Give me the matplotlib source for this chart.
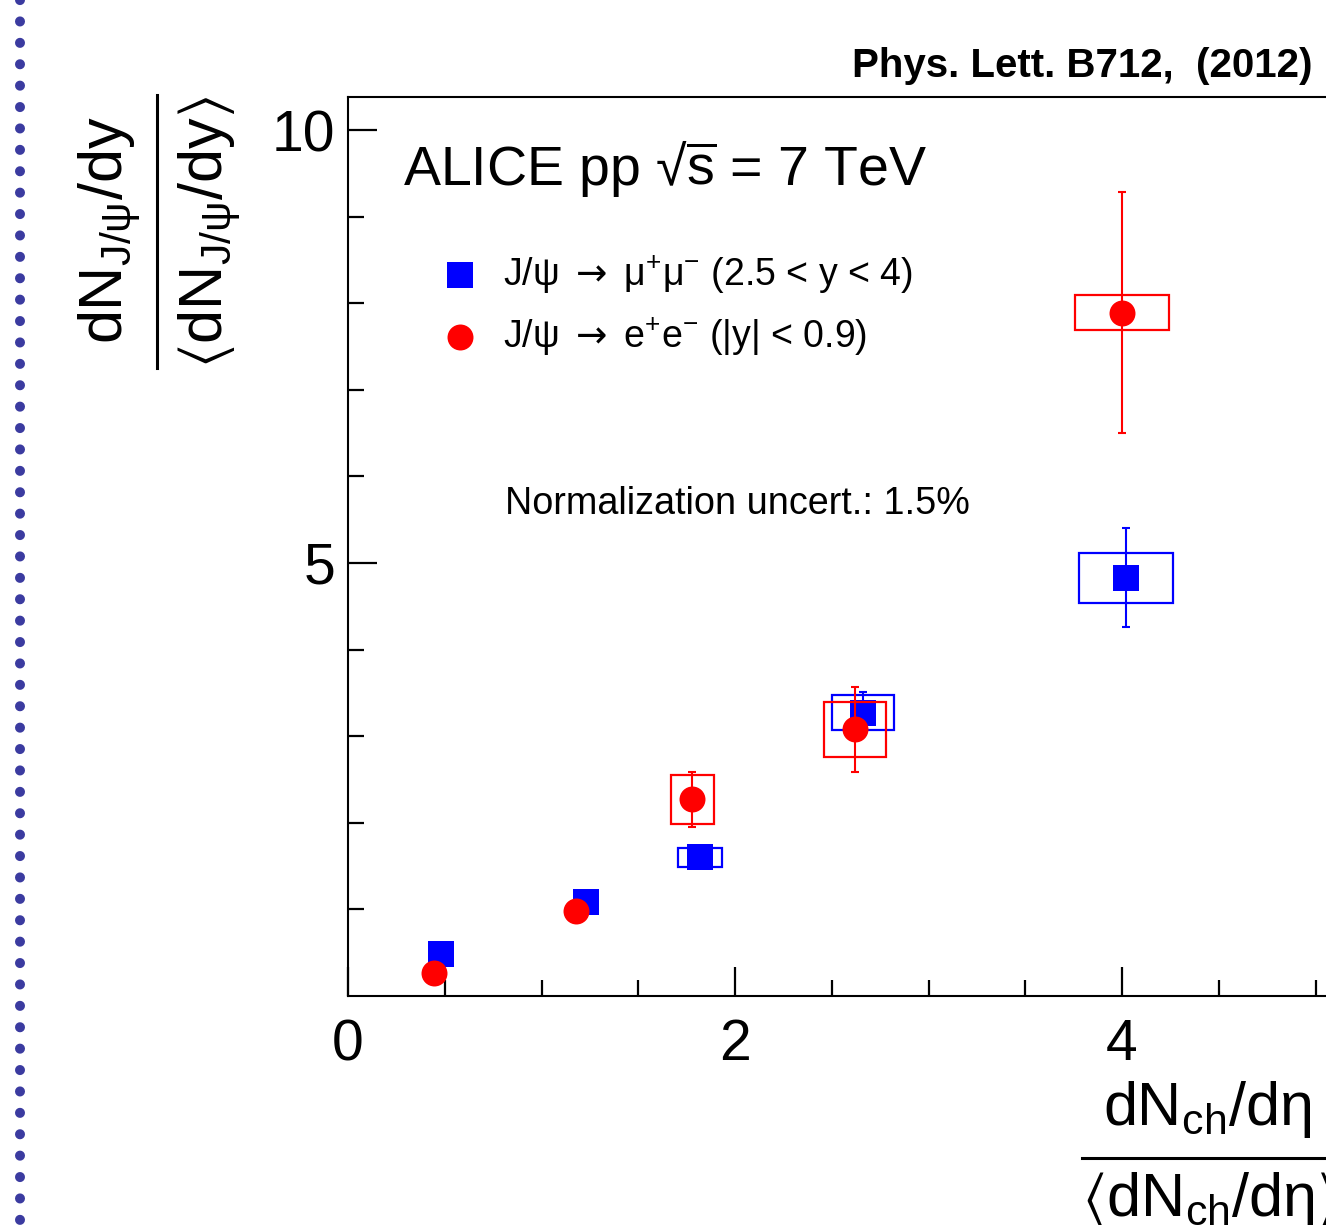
import matplotlib
matplotlib.use("Agg")
import matplotlib.pyplot as plt
from matplotlib.patches import Rectangle
from matplotlib.lines import Line2D

plt.rcParams['font.family'] = ['Liberation Sans', 'DejaVu Sans']
plt.rcParams['mathtext.fontset'] = 'custom'
plt.rcParams['mathtext.rm'] = 'Liberation Sans'
plt.rcParams['mathtext.it'] = 'Liberation Sans:italic'
plt.rcParams['mathtext.bf'] = 'Liberation Sans:bold'
plt.rcParams['mathtext.sf'] = 'DejaVu Sans'
plt.rcParams['mathtext.fallback'] = 'stixsans'

W, H = 1326, 1225

# J/psi -> mu+mu- (forward)
mu_x = [0.48, 1.23, 1.82, 2.66, 4.02]
mu_y = [0.48, 1.08, 1.60, 3.27, 4.83]
mu_stat = [0.03, 0.04, 0.08, 0.24, 0.57]
mu_sx = [0.02, 0.02, 0.114, 0.16, 0.243]
mu_sy = [0.03, 0.03, 0.11, 0.20, 0.29]

# J/psi -> e+e- (mid rapidity)
e_x = [0.445, 1.18, 1.78, 2.62, 4.00]
e_y = [0.27, 0.98, 2.27, 3.08, 7.89]
e_stat = [0.05, 0.10, 0.32, 0.49, 1.39]
e_sx = [0.02, 0.02, 0.11, 0.16, 0.245]
e_sy = [0.03, 0.05, 0.28, 0.32, 0.20]

labels = [r'J/ψ $\mathsf{\rightarrow}$ $\mathregular{\mu^{+}\mu^{-}}$ (2.5 < y < 4)',
          r'J/ψ $\mathsf{\rightarrow}$ $\mathregular{e^{+}e^{-}}$ (|y| < 0.9)']


def px(x, y):
    return x / W, 1 - y / H


def main():
    fig = plt.figure(figsize=(W / 100, H / 100), dpi=100)
    fig.patch.set_facecolor("white")

    # axes: x=0 at px 348, 193.5 px per unit; y=0 at px 996, 86.6 px per unit
    x0, y0 = px(348, 996)
    ax = fig.add_axes([x0, y0, 6 * 193.5 / W, (996 - 97) / H])
    ax.set_xlim(0, 6)
    ax.set_ylim(0, (996 - 97) / 86.6)

    series = [(mu_x, mu_y, mu_stat, mu_sx, mu_sy, "#0000ff", "s"),
              (e_x, e_y, e_stat, e_sx, e_sy, "#ff0000", "o")]
    for i, (xs, ys, st, sx, sy, c, m) in enumerate(series):
        z = 2 + i * 3
        for xx, yy, dx, dy in zip(xs, ys, sx, sy):
            ax.add_patch(Rectangle((xx - dx, yy - dy), 2 * dx, 2 * dy,
                                   fill=False, edgecolor=c, lw=1.6, zorder=z))
        ax.errorbar(xs, ys, yerr=st, fmt="none", ecolor=c, elinewidth=1.5,
                    capsize=3, capthick=1.5, zorder=z + 1)
        ax.plot(xs, ys, m, color=c, ms=18.7, mew=0, zorder=z + 2)

    ax.spines["right"].set_visible(False)
    for s in ["left", "bottom", "top"]:
        ax.spines[s].set_linewidth(1.5)

    ax.set_xticks([0, 2, 4])
    ax.set_xticks([0.5, 1, 1.5, 2.5, 3, 3.5, 4.5, 5, 5.5], minor=True)
    ax.set_yticks([5, 10])
    ax.set_yticks([1, 2, 3, 4, 6, 7, 8, 9], minor=True)
    ax.tick_params(which="both", direction="in", width=1.6, top=False, right=False)
    ax.tick_params(which="major", length=21)
    ax.tick_params(which="minor", length=11.5)
    ax.tick_params(axis="y", labelsize=41, pad=9)
    ax.tick_params(axis="x", labelsize=41, pad=16)

    # legend by hand
    for (xs, ys, st, sx, sy, c, m), lab, ly in zip(series, labels, [275, 337]):
        mx, my = ax.transData.inverted().transform((460, H - ly))
        ax.plot([mx], [my], m, color=c, ms=18.7, mew=0, clip_on=False)
        fig.text(*px(503, ly), lab, fontsize=27, ha="left", va="center")

    fig.text(*px(403, 185), r'ALICE pp √$\overline{\mathregular{s}}$ = 7 TeV',
             fontsize=40, ha="left", va="baseline")
    fig.text(*px(505, 504), "Normalization uncert.: 1.5%", fontsize=27.2,
             ha="left", va="center")
    fig.text(*px(1312, 77), "Phys. Lett. B712,  (2012)", fontsize=29,
             fontweight="bold", ha="right", va="baseline")

    # y axis title as a fraction
    fig.text(*px(110, 230), r'$\mathrm{dN_{J/\psi}/dy}$', fontsize=44,
             rotation=90, ha="center", va="center")
    fig.text(*px(210, 232), r'$\mathrm{\langle dN_{J/\psi}/dy\rangle}$', fontsize=44,
             rotation=90, ha="center", va="center")
    fig.add_artist(Line2D([157 / W, 157 / W], [1 - 95 / H, 1 - 368 / H],
                          color="black", lw=2.2, transform=fig.transFigure))

    # x axis title as a fraction
    fig.text(*px(1103, 1125), r'$\mathrm{dN_{ch}/d\eta}$', fontsize=44,
             ha="left", va="baseline")
    fig.add_artist(Line2D([1082 / W, 1.05], [1 - 1158 / H, 1 - 1158 / H],
                          color="black", lw=2.2, transform=fig.transFigure))
    fig.text(*px(1082, 1170), r'$\mathrm{\langle dN_{ch}/d\eta\rangle}$', fontsize=44,
             ha="left", va="top")

    # dotted slide border on the left
    fig.add_artist(Line2D([20 / W, 20 / W], [1.0, 0.0], color="#3b3ba0", lw=7.2,
                          linestyle=(0, (0.01, 2.13)), dash_capstyle="round",
                          transform=fig.transFigure))

    plt.savefig("out.png", dpi=100)


if __name__ == '__main__':
    main()
